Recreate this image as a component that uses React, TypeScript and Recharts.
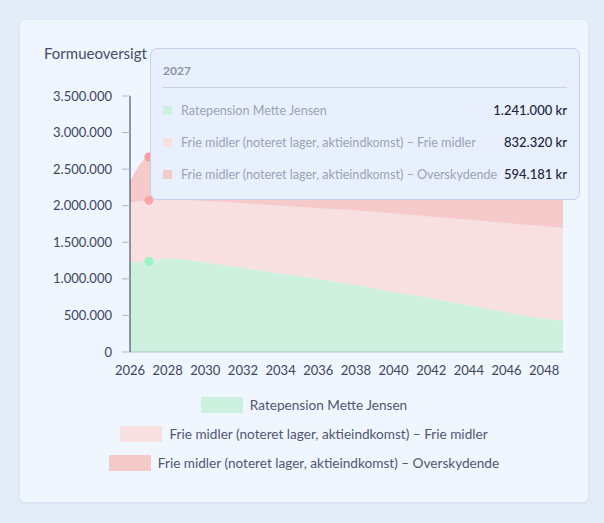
import React from "react";
import { AreaChart, Area, XAxis, YAxis, Tooltip } from "recharts";

const years = [
  2026, 2027, 2028, 2029, 2030, 2031, 2032, 2033, 2034, 2035, 2036, 2037,
  2038, 2039, 2040, 2041, 2042, 2043, 2044, 2045, 2046, 2047, 2048, 2049,
];

const ratepension = [
  1226000, 1241000, 1275000, 1262000, 1225000, 1190000, 1150000, 1110000,
  1072000, 1035000, 998000, 958000, 918000, 868000, 822000, 778000, 732000,
  685000, 638000, 590000, 543000, 497000, 455000, 425000,
];

const frieMidler = [
  814000, 832320, 805000, 813000, 840000, 860000, 885000, 908000, 928000,
  948000, 969000, 994000, 1017000, 1047000, 1073000, 1095000, 1118000,
  1143000, 1169000, 1195000, 1219000, 1243000, 1263000, 1272000,
];

const overskydende = [
  289000, 594181, 600000, 598000, 594000, 590000, 585000, 580000, 575000,
  570000, 564000, 558000, 552000, 546000, 540000, 534000, 527000, 520000,
  513000, 506000, 498000, 490000, 482000, 474000,
];

const yTicks = [0, 500000, 1000000, 1500000, 2000000, 2500000, 3000000, 3500000];

const seriesNames = [
  "Ratepension Mette Jensen",
  "Frie midler (noteret lager, aktieindkomst) – Frie midler",
  "Frie midler (noteret lager, aktieindkomst) – Overskydende",
];

const data = years.map((year, i) => ({
  year,
  rate: ratepension[i],
  frie: frieMidler[i],
  over: overskydende[i],
}));

const series = [
  { key: "rate", name: seriesNames[0], fill: "#c5f0d7", swatch: "#ccf1df", dot: "#9ef3c6" },
  { key: "frie", name: seriesNames[1], fill: "#fadbd9", swatch: "#f8e0e0", dot: "#fca5a5" },
  { key: "over", name: seriesNames[2], fill: "#f7bfbd", swatch: "#f5caca", dot: "#fb9f9f" },
];

const font = "Lato, 'Noto Sans', sans-serif";

// 1241000 -> "1.241.000"
const fmt = (v: number) => String(Math.round(v)).replace(/\B(?=(\d{3})+(?!\d))/g, ".");

function TooltipBox({ payload, label }: any) {
  if (!payload || !payload.length) return null;
  return (
    <div
      style={{
        width: 404,
        padding: "14px 12px 9px 12px",
        background: "#e7f0fc",
        border: "1px solid #c4d1ec",
        borderRadius: 7,
        fontFamily: font,
      }}
    >
      <div style={{ fontSize: 12, lineHeight: "16px", fontWeight: 700, color: "#8a93aa" }}>
        {label}
      </div>
      <div style={{ borderTop: "1px solid #c6d2e8", marginTop: 8, marginBottom: 6 }} />
      {payload.map((p: any) => {
        const s = series.find((x) => x.key === p.dataKey);
        return (
          <div
            key={p.dataKey}
            style={{ display: "flex", alignItems: "center", height: 32 }}
          >
            <span
              style={{
                width: 9,
                height: 9,
                background: s ? s.swatch : p.color,
                marginRight: 9,
                flex: "none",
              }}
            />
            <span style={{ flex: 1, fontSize: 12.6, color: "#9aa3b8", whiteSpace: "nowrap" }}>
              {p.name}
            </span>
            <span
              style={{
                marginLeft: 6,
                fontSize: 13,
                fontWeight: 500,
                color: "#1c2340",
                whiteSpace: "nowrap",
              }}
            >
              {fmt(p.value)} kr
            </span>
          </div>
        );
      })}
    </div>
  );
}

export default function App() {
  return (
    <div
      style={{
        position: "fixed",
        left: 0,
        top: 0,
        width: 604,
        height: 523,
        background: "#e3edf9",
        fontFamily: font,
      }}
    >
      <div
        style={{
          position: "absolute",
          left: 20,
          top: 20,
          width: 568,
          height: 482,
          background: "#eff6fe",
          borderRadius: 5,
          boxShadow: "0 1px 3px rgba(110,140,190,0.18)",
        }}
      >
        <div
          style={{
            position: "absolute",
            left: 24,
            top: 23,
            fontSize: 15,
            lineHeight: "20px",
            color: "#474d66",
          }}
        >
          Formueoversigt
        </div>

        <div style={{ position: "absolute", left: 0, top: 0 }}>
          <AreaChart
            width={568}
            height={370}
            data={data}
            margin={{ top: 76, right: 25, left: 0, bottom: 8 }}
          >
            <XAxis
              dataKey="year"
              interval={1}
              tickLine={false}
              tickSize={6}
              tickMargin={8}
              height={30}
              stroke="#b6bfce"
              tick={{ fill: "#3c4462", fontSize: 13, fontFamily: font }}
            />
            <YAxis
              width={110}
              domain={[0, 3500000]}
              ticks={yTicks}
              tickFormatter={fmt}
              tickSize={8}
              tickMargin={10}
              axisLine={{ stroke: "#2e3652" }}
              tickLine={{ stroke: "#a8bad4" }}
              tick={{ fill: "#3c4462", fontSize: 13, fontFamily: font }}
            />
            <Tooltip
              defaultIndex={1}
              active
              cursor={false}
              position={{ x: 130, y: 28 }}
              isAnimationActive={false}
              wrapperStyle={{ outline: "none" }}
              content={<TooltipBox />}
            />
            {series.map((s) => (
              <Area
                key={s.key}
                type="monotone"
                dataKey={s.key}
                name={s.name}
                stackId="1"
                stroke="none"
                fill={s.fill}
                fillOpacity={0.8}
                isAnimationActive={false}
                activeDot={{ r: 4.5, fill: s.dot, stroke: "none" }}
              />
            ))}
          </AreaChart>
        </div>

        <div
          style={{
            position: "absolute",
            left: 0,
            top: 370,
            width: 568,
            display: "flex",
            flexDirection: "column",
            alignItems: "center",
          }}
        >
          {series.map((s) => (
            <div key={s.key} style={{ display: "flex", alignItems: "center", height: 29 }}>
              <span style={{ width: 42, height: 16, background: s.swatch, marginRight: 7 }} />
              <span style={{ fontSize: 13.6, color: "#4f5773", whiteSpace: "nowrap" }}>
                {s.name}
              </span>
            </div>
          ))}
        </div>
      </div>
    </div>
  );
}
